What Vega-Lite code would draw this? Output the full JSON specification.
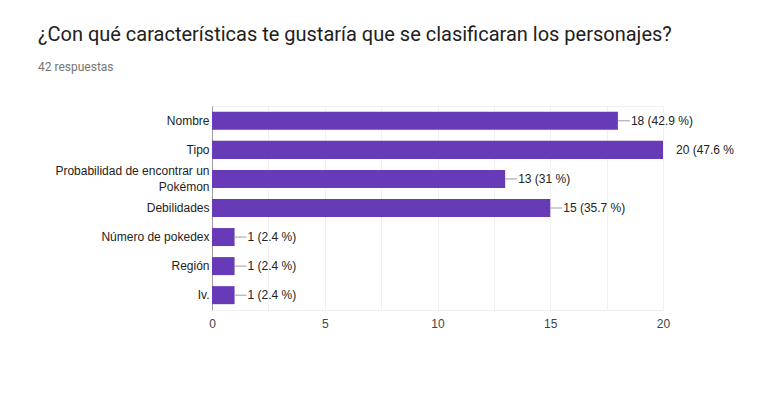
{
  "$schema": "https://vega.github.io/schema/vega-lite/v6.json",
  "width": 451,
  "height": 204,
  "autosize": {"type": "none"},
  "padding": {"left": 212, "top": 106, "right": 108, "bottom": 88},
  "background": "white",
  "config": {
    "view": {"stroke": "#f0f0f0", "strokeWidth": 1},
    "font": "Liberation Sans"
  },
  "title": {
    "text": "¿Con qué características te gustaría que se clasificaran los personajes?",
    "subtitle": "42 respuestas",
    "anchor": "start",
    "frame": "group",
    "dx": -174,
    "offset": 33,
    "font": "Roboto",
    "fontSize": 20,
    "fontWeight": "normal",
    "color": "#212121",
    "subtitleFont": "Roboto",
    "subtitleFontSize": 12,
    "subtitleColor": "#757575",
    "subtitlePadding": 17
  },
  "data": {
    "values": [
      {"category": "Nombre", "value": 18, "label": "18 (42.9 %)"},
      {"category": "Tipo", "value": 20, "label": "20 (47.6 %"},
      {"category": "Probabilidad de encontrar un Pokémon", "value": 13, "label": "13 (31 %)"},
      {"category": "Debilidades", "value": 15, "label": "15 (35.7 %)"},
      {"category": "Número de pokedex", "value": 1, "label": "1 (2.4 %)"},
      {"category": "Región", "value": 1, "label": "1 (2.4 %)"},
      {"category": "Iv.", "value": 1, "label": "1 (2.4 %)"}
    ]
  },
  "encoding": {
    "y": {
      "field": "category",
      "type": "nominal",
      "sort": null,
      "scale": {"paddingInner": 0.38, "paddingOuter": 0.2},
      "axis": {
        "title": null,
        "ticks": false,
        "domain": true,
        "domainColor": "#9e9e9e",
        "domainWidth": 1,
        "labelFont": "Liberation Sans",
        "labelFontSize": 12,
        "labelColor": "#222222",
        "labelPadding": 3,
        "labelLimit": 300,
        "labelLineHeight": 16,
        "labelOffset": {"condition": {"test": "datum.value == 'Probabilidad de encontrar un Pokémon'", "value": -8}, "value": 0},
        "labelExpr": "datum.label == 'Probabilidad de encontrar un Pokémon' ? ['Probabilidad de encontrar un', 'Pokémon'] : datum.label"
      }
    }
  },
  "layer": [
    {
      "mark": {"type": "bar", "color": "#673ab7"},
      "encoding": {
        "x": {
          "field": "value",
          "type": "quantitative",
          "scale": {"domain": [0, 20], "nice": false},
          "axis": {
            "title": null,
            "values": [0, 2.5, 5, 7.5, 10, 12.5, 15, 17.5, 20],
            "labelExpr": "datum.value % 5 == 0 ? datum.label : ''",
            "labelFlush": false,
            "ticks": false,
            "domain": false,
            "gridColor": "#f0f0f0",
            "gridWidth": 1,
            "labelFont": "Liberation Sans",
            "labelFontSize": 12,
            "labelColor": "#444444",
            "labelPadding": 8
          }
        }
      }
    },
    {
      "transform": [{"filter": "datum.value < 20"}],
      "mark": {"type": "rule", "color": "#9e9e9e", "strokeWidth": 1, "x2Offset": 12},
      "encoding": {
        "x": {"field": "value", "type": "quantitative"},
        "x2": {"field": "value"}
      }
    },
    {
      "mark": {"type": "text", "align": "left", "baseline": "middle", "dx": 13, "fontSize": 12, "color": "#222222", "font": "Liberation Sans"},
      "encoding": {
        "x": {"field": "value", "type": "quantitative"},
        "text": {"field": "label"}
      }
    }
  ]
}
